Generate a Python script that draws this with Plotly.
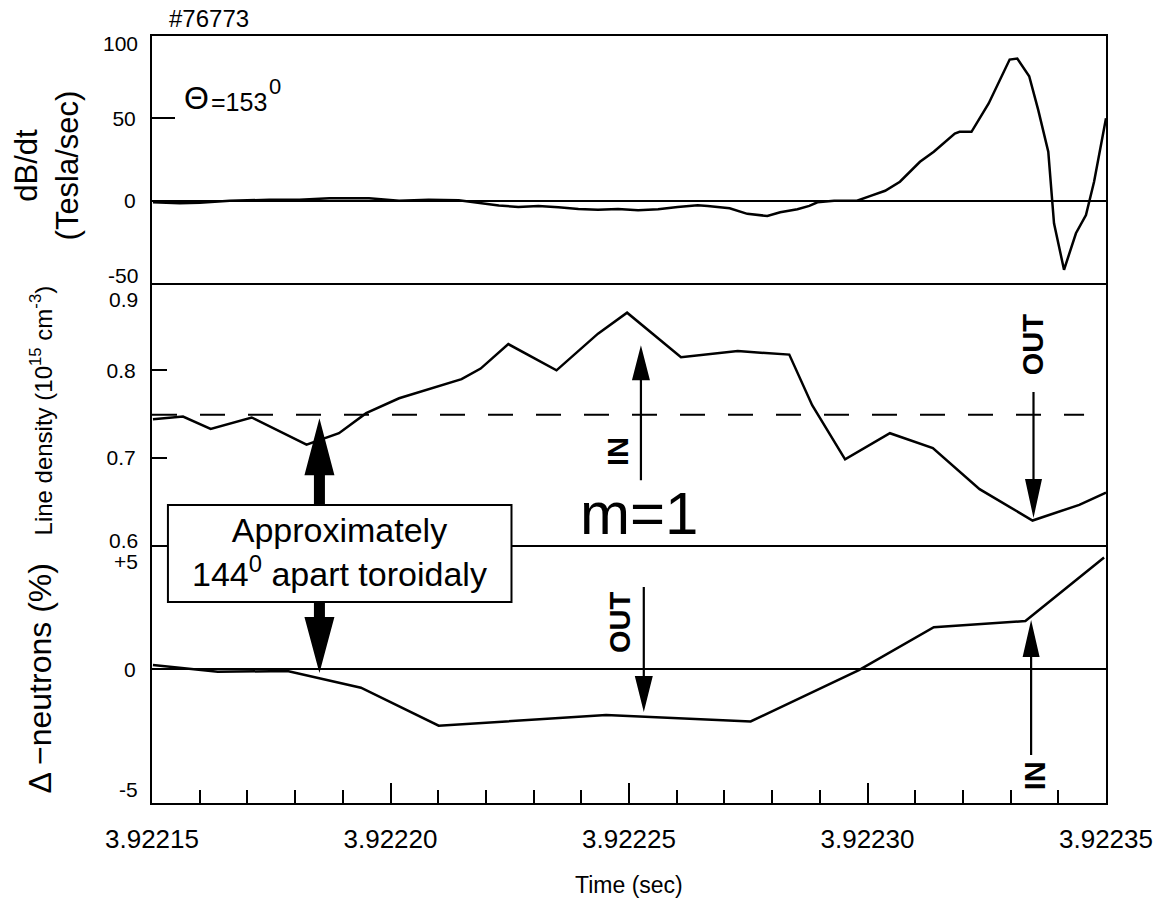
import plotly.graph_objects as go

# ---------------- data ----------------
# Magnetic probe signal dB/dt (Tesla/sec), probe at Theta = 153 deg
db_time = [3.9221502, 3.9221558, 3.9221600, 3.9221663, 3.9221746, 3.9221809, 3.9221872,
           3.9221955, 3.9222018, 3.9222080, 3.9222143, 3.9222185, 3.9222227, 3.9222268,
           3.9222310, 3.9222352, 3.9222394, 3.9222435, 3.9222477, 3.9222519, 3.9222561,
           3.9222602, 3.9222644, 3.9222665, 3.9222711, 3.9222748, 3.9222790, 3.9222817,
           3.9222853, 3.9222878, 3.9222895, 3.9222930, 3.9222978, 3.9223005, 3.9223037,
           3.9223068, 3.9223110, 3.9223139, 3.9223183, 3.9223193, 3.9223218, 3.9223254,
           3.9223298, 3.9223314, 3.9223339, 3.9223358, 3.9223379, 3.9223391, 3.9223412,
           3.9223437, 3.9223458, 3.9223475, 3.9223500]
db_dt = [-1.0, -1.5, -1.2, 0.0, 0.5, 0.6, 1.5,
         1.4, 0.0, 0.6, 0.2, -1.2, -3.0, -3.8,
         -3.2, -4.0, -5.0, -5.5, -5.0, -5.8, -5.2,
         -3.8, -2.8, -3.2, -4.6, -8.0, -9.3, -7.0,
         -5.2, -3.2, -1.0, 0.0, 0.0, 2.8, 6.0,
         11.5, 23.6, 29.7, 40.8, 41.8, 41.8, 59.0,
         85.7, 86.3, 75.6, 55.0, 29.7, -13.7, -42.0,
         -19.8, -8.7, 11.5, 50.0]

# Line-integrated density (10^15 cm^-3)
dens_time = [3.9221502, 3.9221565, 3.9221623, 3.9221709, 3.9221824, 3.9221892, 3.9221949,
             3.9222018, 3.9222149, 3.9222189, 3.9222247, 3.9222348, 3.9222435, 3.9222496,
             3.9222609, 3.9222728, 3.9222836, 3.9222884, 3.9222953, 3.9223047, 3.9223137,
             3.9223235, 3.9223346, 3.9223444, 3.9223500]
line_density = [0.744, 0.747, 0.733, 0.746, 0.715, 0.728, 0.751,
                0.768, 0.790, 0.802, 0.830, 0.800, 0.842, 0.866,
                0.815, 0.822, 0.818, 0.760, 0.698, 0.728, 0.711,
                0.664, 0.628, 0.646, 0.660]
reference_density = 0.749

# Neutron rate deviation (%)
neut_time = [3.9221502, 3.9221638, 3.9221784, 3.9221938, 3.9222101, 3.9222452,
             3.9222755, 3.9222982, 3.9223139, 3.9223331, 3.9223496]
delta_neutrons = [0.17, -0.10, -0.07, -0.74, -2.27, -1.84,
                  -2.10, -0.03, 1.69, 1.94, 4.50]

x_range = [3.92215, 3.92235]
x_tick_vals = [3.92215, 3.92220, 3.92225, 3.92230, 3.92235]
x_tick_text = ["3.92215", "3.92220", "3.92225", "3.92230", "3.92235"]

# ---------------- layout geometry (pixels) ----------------
W, H = 1165, 911
ML, MR, MT, MB = 152, 55, 36, 108
PW, PH = W - ML - MR, H - MT - MB
TOP_SPLIT, MID_SPLIT = 283, 545      # panel borders, measured from the top


def fx(px):
    return (px - ML) / PW


def fy(py):
    return (H - MB - py) / PH


FONT = "Liberation Sans, Arial, Helvetica, sans-serif"
BLACK = "black"

fig = go.Figure()
line_style = dict(color=BLACK, width=2.5)
fig.add_trace(go.Scatter(x=db_time, y=db_dt, mode="lines", line=line_style,
                         xaxis="x", yaxis="y", showlegend=False))
fig.add_trace(go.Scatter(x=dens_time, y=line_density, mode="lines", line=line_style,
                         xaxis="x2", yaxis="y2", showlegend=False))
fig.add_trace(go.Scatter(x=neut_time, y=delta_neutrons, mode="lines", line=line_style,
                         xaxis="x3", yaxis="y3", showlegend=False))

frame = dict(showline=True, linewidth=2, linecolor=BLACK, mirror=True,
             showgrid=False, zeroline=False)
# the top panel draws its upper and lower border; the lower panels only their
# bottom edge, so shared borders stay a single line
xa_top = dict(frame, range=x_range, showticklabels=False, ticks="")
xa_mid = dict(xa_top, mirror=False)
ya_common = dict(frame, ticks="inside", tickwidth=2, tickcolor=BLACK,
                 tickfont=dict(family=FONT, size=21, color=BLACK),
                 ticklabelstandoff=10)

fig.update_layout(
    width=W, height=H,
    margin=dict(l=ML, r=MR, t=MT, b=MB),
    paper_bgcolor="white", plot_bgcolor="white",
    font=dict(family=FONT, color=BLACK),
    xaxis=dict(xa_top, domain=[0, 1], anchor="y"),
    xaxis2=dict(xa_mid, domain=[0, 1], anchor="y2"),
    xaxis3=dict(frame, mirror=False, domain=[0, 1], anchor="y3", range=x_range,
                tickvals=x_tick_vals, ticktext=x_tick_text,
                ticks="inside", ticklen=20, tickwidth=2, tickcolor=BLACK,
                tickfont=dict(family=FONT, size=26, color=BLACK),
                ticklabelstandoff=12,
                minor=dict(dtick=1e-5, ticks="inside", ticklen=13,
                           tickwidth=2, tickcolor=BLACK)),
    yaxis=dict(ya_common, domain=[fy(TOP_SPLIT), 1], anchor="x", range=[-50, 100],
               tickvals=[0, 50], ticktext=["0", "50"], ticklen=23,
               zeroline=True, zerolinewidth=2, zerolinecolor=BLACK),
    yaxis2=dict(ya_common, domain=[fy(MID_SPLIT), fy(TOP_SPLIT)], anchor="x2",
                range=[0.6, 0.9], tickvals=[0.7, 0.8], ticktext=["0.7", "0.8"],
                ticklen=15),
    yaxis3=dict(ya_common, domain=[0, fy(MID_SPLIT)], anchor="x3",
                range=[-5.38, 5], tickvals=[0], ticktext=["0"], ticklen=0,
                zeroline=True, zerolinewidth=2, zerolinecolor=BLACK),
)

shapes = []

# dashed reference density level
shapes.append(dict(type="line", xref="x2", yref="y2",
                   x0=x_range[0], x1=3.9223454, y0=reference_density, y1=reference_density,
                   line=dict(color=BLACK, width=2, dash="25px,23px"), layer="above"))


def arrow(xref, yref, x, y, up, length, head_len, head_w, shaft_w):
    """Filled vertical arrow with its tip at (x, y); sizes in pixels."""
    s = 1 if up else -1
    hw, sw = head_w / 2, shaft_w / 2
    pts = [(0, 0), (hw, -s * head_len), (sw, -s * head_len), (sw, -s * length),
           (-sw, -s * length), (-sw, -s * head_len), (-hw, -s * head_len)]
    path = "M " + " L ".join(f"{a:.1f},{b:.1f}" for a, b in pts) + " Z"
    return dict(type="path", xref=xref, yref=yref, xsizemode="pixel", ysizemode="pixel",
                xanchor=x, yanchor=y, path=path, fillcolor=BLACK,
                line=dict(width=0), layer="above")


# callout box
shapes.append(dict(type="rect", xref="paper", yref="paper",
                   x0=fx(168), x1=fx(513), y0=fy(602), y1=fy(505),
                   fillcolor="white", line=dict(color=BLACK, width=2), layer="above"))

# IN / OUT arrows
shapes.append(arrow("x2", "y2", 3.9222525, 0.8286, True, 135, 35, 18, 2.2))
shapes.append(arrow("x2", "y2", 3.9223348, 0.6309, False, 126, 39, 17, 2.2))
shapes.append(arrow("x3", "y3", 3.9222531, -1.72, False, 125, 36, 18, 2.2))
shapes.append(arrow("x3", "y3", 3.9223343, 1.98, True, 135, 37, 17, 2.2))
# thick arrows from the callout box
shapes.append(arrow("x2", "y2", 3.9221851, 0.7451, True, 87, 57, 30, 11))
shapes.append(arrow("x3", "y3", 3.9221851, -0.15, False, 71, 56, 30, 11))

fig.update_layout(shapes=shapes)


def label(text, px, py, size, angle=0, bold=False, xanchor="center"):
    return dict(text=text, xref="paper", yref="paper", x=fx(px), y=fy(py),
                xanchor=xanchor, yanchor="middle", showarrow=False, textangle=angle,
                font=dict(family=FONT, size=size, color=BLACK,
                          weight="bold" if bold else "normal"))


def edge_tick(text, yref, value, shift):
    return dict(text=text, xref="paper", x=0, xanchor="right", xshift=-12,
                yref=yref, y=value, yshift=shift, yanchor="middle", showarrow=False,
                font=dict(family=FONT, size=21, color=BLACK))


annotations = [
    label("#76773", 167, 18, 24, xanchor="left"),
    label("\u0398", 197, 98, 32),
    label("=153", 239, 102, 25),
    label("0", 276, 86, 22),
    label("m=1", 641, 513, 60),
    label("IN", 620, 452, 29, angle=-90, bold=True),
    label("OUT", 1037, 344, 29, angle=-90, bold=True),
    label("OUT", 622, 622, 29, angle=-90, bold=True),
    label("IN", 1039, 776, 29, angle=-90, bold=True),
    label("Approximately<br>144<sup>0</sup> apart toroidaly", 340, 552, 34),
    label("Time (sec)", 631, 885, 23),
    label("dB/dt<br>(Tesla/sec)", 46, 165, 31, angle=-90),
    label("Line density (10<sup>15</sup> cm<sup>-3</sup>)", 41, 410, 24, angle=-90),
    label("\u0394 \u2212neutrons (%)", 40, 678, 32, angle=-90),
    edge_tick("100", "y", 100, -7),
    edge_tick("-50", "y", -50, 8),
    edge_tick("0.9", "y2", 0.9, -16),
    edge_tick("0.6", "y2", 0.6, 5),
    edge_tick("+5", "y3", 5, -16),
    edge_tick("-5", "y3", -5, 4),
]
fig.update_layout(annotations=annotations)

fig.write_html("out.html")
